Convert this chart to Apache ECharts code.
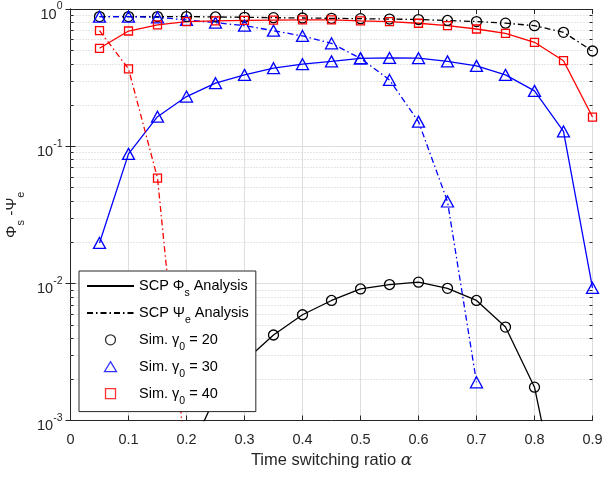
<!DOCTYPE html>
<html>
<head>
<meta charset="utf-8">
<script src="https://cdn.jsdelivr.net/npm/echarts@6/dist/echarts.min.js"></script>
<style>
  html, body { margin: 0; padding: 0; background: #fff; }
  #chart { width: 605px; height: 478px; }
</style>
</head>
<body>
<div id="chart"></div>
<script>
// Time switching ratio values (x)
const alpha = [0.05, 0.10, 0.15, 0.20, 0.25, 0.30, 0.35, 0.40, 0.45,
               0.50, 0.55, 0.60, 0.65, 0.70, 0.75, 0.80, 0.85, 0.90];

// Phi_s and Psi_e for gamma0 = 20, 30, 40 (null = no value)
const phiS20 = [null, null, null, 0.00052, 0.0015, 0.0027, 0.0042, 0.0059, 0.0075,
                0.0091, 0.0098, 0.0102, 0.0092, 0.0075, 0.0048, 0.00175, 0.00017, null];
const psiE20 = [0.88, 0.88, 0.88, 0.88, 0.875, 0.87, 0.865, 0.86, 0.855,
                0.85, 0.845, 0.838, 0.825, 0.81, 0.788, 0.756, 0.676, 0.494];

const phiS30 = [0.0197, 0.0879, 0.164, 0.230, 0.288, 0.331, 0.370, 0.396, 0.415,
                0.437, 0.440, 0.438, 0.415, 0.385, 0.331, 0.253, 0.128, 0.00925];
const psiE30 = [0.879, 0.879, 0.870, 0.832, 0.795, 0.756, 0.695, 0.636, 0.562,
                0.437, 0.304, 0.151, 0.0395, 0.0019, null, null, null, null];

const phiS40 = [0.517, 0.691, 0.765, 0.809, 0.818, 0.826, 0.83, 0.832, 0.832,
                0.818, 0.809, 0.787, 0.756, 0.715, 0.665, 0.572, 0.420, 0.163];
const psiE40 = [0.695, 0.366, 0.0585, 0.00045, null, null, null, null, null,
                null, null, null, null, null, null, null, null, null];

// Axis tick labels
const xTickLabels = ['0', '0.1', '0.2', '0.3', '0.4', '0.5', '0.6', '0.7', '0.8', '0.9'];
const yExponents = ['-3', '-2', '-1', '0'];
// Minor log gridlines (2..9 within each decade)
const yMinorValues = [0.002, 0.003, 0.004, 0.005, 0.006, 0.007, 0.008, 0.009,
                      0.02, 0.03, 0.04, 0.05, 0.06, 0.07, 0.08, 0.09,
                      0.2, 0.3, 0.4, 0.5, 0.6, 0.7, 0.8, 0.9];

const FONT = 'Liberation Sans, Arial, Helvetica, sans-serif';
const AXIS = '#262626';
const DASHDOT = [6, 3, 1.5, 3];

// legend marker outlines, drawn at their final pixel size
const ICON_TRIANGLE = 'path://M6,0L12,10L0,10Z';
const ICON_SQUARE = 'path://M0,0L9,0L9,9L0,9Z';

function pairs(vals) {
  return alpha.map((a, i) => [a, vals[i] === null ? '-' : vals[i]]);
}

function curve(vals, color, dashed, symbol, size) {
  return {
    type: 'line',
    data: pairs(vals),
    symbol: symbol,
    symbolSize: size,
    showSymbol: true,
    showAllSymbol: true,
    clip: true,
    z: 3,
    lineStyle: { color: color, width: 1.3, type: dashed ? DASHDOT : 'solid' },
    itemStyle: { color: 'rgba(0,0,0,0)', borderColor: color, borderWidth: 1.3 },
    emphasis: { disabled: true },
    silent: true
  };
}

const legendNames = {
  phi: '{t|SCP Φ}{s|s}{t| Analysis}',
  psi: '{t|SCP Ψ}{s|e}{t| Analysis}',
  g20: '{t|Sim. γ}{s|0}{t| = 20}',
  g30: '{t|Sim. γ}{s|0}{t| = 30}',
  g40: '{t|Sim. γ}{s|0}{t| = 40}'
};

function legendMarker(name, symbol, color) {
  return { name: name, type: 'scatter', data: [], symbol: symbol, color: color,
           itemStyle: { color: 'rgba(0,0,0,0)', borderColor: color, borderWidth: 1.3 } };
}

function markerStyle(color) {
  return { color: 'rgba(0,0,0,0)', borderColor: color, borderWidth: 1.3 };
}

const chart = echarts.init(document.getElementById('chart'), null, { renderer: 'canvas' });

chart.setOption({
  animation: false,
  backgroundColor: '#fff',
  grid: { left: 70.5, right: 12.5, top: 9, bottom: 57.5, containLabel: false, outerBoundsMode: 'none' },
  xAxis: [{
    type: 'value', min: 0, max: 0.9, interval: 0.1,
    name: '{n|Time switching ratio }{a|α}',
    nameLocation: 'middle', nameGap: 31,
    nameTextStyle: {
      rich: {
        n: { fontFamily: FONT, fontSize: 16.5, color: AXIS },
        a: { fontFamily: 'DejaVu Serif, Liberation Serif, serif', fontStyle: 'italic', fontSize: 17, color: AXIS }
      }
    },
    axisLine: { show: true, lineStyle: { color: AXIS, width: 1 } },
    axisTick: { show: true, inside: true, length: 5, lineStyle: { color: AXIS } },
    axisLabel: {
      margin: 12, color: AXIS, fontFamily: FONT, fontSize: 14.5,
      formatter: v => xTickLabels[Math.round(v * 10)]
    },
    splitLine: { show: true, lineStyle: { color: '#dedede', width: 1 } }
  }, {
    type: 'value', min: 0, max: 0.9, interval: 0.1, position: 'top',
    axisLine: { show: true, lineStyle: { color: AXIS, width: 1 } },
    axisTick: { show: true, inside: true, length: 5, lineStyle: { color: AXIS } },
    axisLabel: { show: false },
    splitLine: { show: false }
  }],
  yAxis: [{
    type: 'log', logBase: 10, min: 0.001, max: 1,
    name: '{t|Φ}{s|s}{t| -Ψ}{s|e}',
    nameLocation: 'middle', nameRotate: 90, nameGap: 45,
    nameTextStyle: {
      rich: {
        t: { fontFamily: FONT, fontSize: 15.5, color: AXIS, lineHeight: 24, verticalAlign: 'top', padding: [3.5, 0, 0, 0] },
        s: { fontFamily: FONT, fontSize: 11, color: AXIS, lineHeight: 24, verticalAlign: 'top', padding: [14.5, 0, 0, 0] }
      }
    },
    axisLine: { show: true, lineStyle: { color: AXIS, width: 1 } },
    axisTick: { show: true, inside: true, length: 5, lineStyle: { color: AXIS } },
    axisLabel: {
      margin: 8,
      formatter: v => '{b|10}{e|' + yExponents[Math.round(Math.log10(v)) + 3] + '}',
      rich: {
        b: { fontFamily: FONT, fontSize: 14.5, color: AXIS, lineHeight: 24, verticalAlign: 'top', padding: [10, 0, 0, 0] },
        e: { fontFamily: FONT, fontSize: 10.5, color: AXIS, lineHeight: 24, verticalAlign: 'top', padding: [4, 0, 0, 0] }
      }
    },
    splitLine: { show: true, lineStyle: { color: '#dedede', width: 1 } }
  }, {
    type: 'log', logBase: 10, min: 0.001, max: 1, position: 'right',
    axisLine: { show: true, lineStyle: { color: AXIS, width: 1 } },
    axisTick: { show: true, inside: true, length: 5, lineStyle: { color: AXIS } },
    axisLabel: { show: false },
    splitLine: { show: false }
  }],
  legend: {
    orient: 'vertical', left: 79, top: 271,
    padding: [4, 7, 5, 7],
    itemWidth: 47, itemHeight: 10, itemGap: 2.9,
    backgroundColor: '#fff', borderColor: AXIS, borderWidth: 1, borderRadius: 0,
    selectedMode: false,
    formatter: name => legendNames[name],
    textStyle: {
      rich: {
        t: { fontFamily: FONT, fontSize: 14.5, color: '#000', lineHeight: 22, verticalAlign: 'top', padding: [3.5, 0, 0, 0] },
        s: { fontFamily: FONT, fontSize: 10.5, color: '#000', lineHeight: 22, verticalAlign: 'top', padding: [13, 0, 0, 0] }
      }
    },
    data: [
      { name: 'phi', itemStyle: { opacity: 0 } },
      { name: 'psi', itemStyle: { opacity: 0 } },
      { name: 'g20', icon: 'circle', itemStyle: markerStyle('#000000') },
      { name: 'g30', icon: ICON_TRIANGLE, itemStyle: markerStyle('#0000ff') },
      { name: 'g40', icon: ICON_SQUARE, itemStyle: markerStyle('#ff0000') }
    ]
  },
  series: [
    // minor log gridlines and minor ticks on both vertical axes
    {
      type: 'custom', silent: true, z: 1,
      data: yMinorValues.map(v => [0, v]),
      encode: { x: 0, y: 1 },
      renderItem: (params, api) => {
        const y = Math.round(api.coord([0, api.value(1)])[1]) + 0.5;
        const cs = params.coordSys;
        return {
          type: 'group',
          children: [
            { type: 'line', shape: { x1: cs.x, y1: y, x2: cs.x + cs.width, y2: y },
              style: { stroke: '#cccccc', lineWidth: 1, lineDash: [1, 2] } },
            { type: 'line', shape: { x1: cs.x, y1: y, x2: cs.x + 3, y2: y },
              style: { stroke: AXIS, lineWidth: 1 } },
            { type: 'line', shape: { x1: cs.x + cs.width - 3, y1: y, x2: cs.x + cs.width, y2: y },
              style: { stroke: AXIS, lineWidth: 1 } }
          ]
        };
      }
    },
    curve(phiS20, '#000000', false, 'circle', 10),
    curve(psiE20, '#000000', true, 'circle', 10),
    curve(phiS30, '#0000ff', false, 'triangle', [12, 11]),
    curve(psiE30, '#0000ff', true, 'triangle', [12, 11]),
    curve(phiS40, '#ff0000', false, 'rect', 8),
    curve(psiE40, '#ff0000', true, 'rect', 8),
    // legend-only entries
    { name: 'phi', type: 'line', data: [], symbol: 'none', color: '#000',
      lineStyle: { color: '#000', width: 1.3, type: 'solid' } },
    { name: 'psi', type: 'line', data: [], symbol: 'none', color: '#000',
      lineStyle: { color: '#000', width: 1.3, type: DASHDOT } },
    legendMarker('g20', 'circle', '#000000'),
    legendMarker('g30', 'triangle', '#0000ff'),
    legendMarker('g40', 'rect', '#ff0000')
  ]
});
</script>
</body>
</html>
